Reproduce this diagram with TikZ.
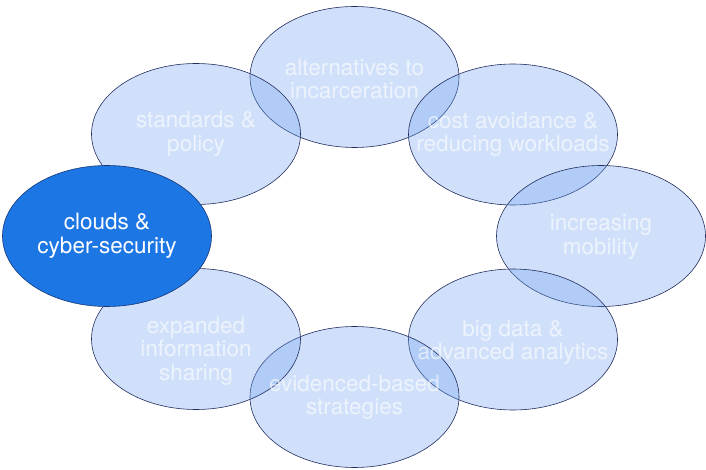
\documentclass[tikz,border=0pt]{standalone}
\usepackage{fontspec}
\setmainfont{TeX Gyre Heros}
\usetikzlibrary{shapes.geometric}
\definecolor{bubfill}{RGB}{110,160,238}
\definecolor{bubline}{RGB}{35,45,95}
\definecolor{hotfill}{RGB}{28,118,228}
\definecolor{hotline}{RGB}{20,55,120}
\tikzset{
  bub/.style={ellipse, minimum width=209pt, minimum height=141pt, inner sep=0pt,
    fill=bubfill, fill opacity=0.32, draw=bubline, draw opacity=1, line width=0.6pt},
  hot/.style={ellipse, minimum width=209pt, minimum height=141pt, inner sep=0pt,
    fill=hotfill, draw=hotline, line width=0.6pt},
  lbl/.style={align=center, text=white, text opacity=0.6, inner sep=0pt,
    font=\fontsize{22.5pt}{23.5pt}\selectfont},
  hotlbl/.style={align=center, text=white, inner sep=0pt,
    font=\fontsize{22.5pt}{23.5pt}\selectfont}
}
\begin{document}
\begin{tikzpicture}[x=1pt, y=-1pt]
\useasboundingbox (0,0) rectangle (706,470);
% light bubbles
\node[bub] (alt) at (354.5,77) {};
\node[bub] (cost) at (513,134.5) {};
\node[bub] (mob) at (601,236) {};
\node[bub] (big) at (513,339.5) {};
\node[bub] (evid) at (354.5,397) {};
\node[bub] (exp) at (196,339) {};
\node[bub] (std) at (196,134) {};
% labels
\node[lbl] (altt) at (354.5,79) {alternatives to\\incarceration};
\node[lbl] (costt) at (513,134.5) {cost avoidance \&\\reducing workloads};
\node[lbl] (mobt) at (601,237) {increasing\\mobility};
\node[lbl] (bigt) at (513,342) {big data \&\\advanced analytics};
\node[lbl] (evidt) at (354.5,397) {evidenced-based\\strategies};
\node[lbl] (expt) at (196,351) {expanded\\information\\sharing};
\node[lbl] (stdt) at (196,134) {standards \&\\policy};
% highlighted bubble
\node[hot] (cloud) at (107,236) {};
\node[hotlbl] (cloudt) at (107,236) {clouds \&\\cyber-security};
\end{tikzpicture}
\end{document}
